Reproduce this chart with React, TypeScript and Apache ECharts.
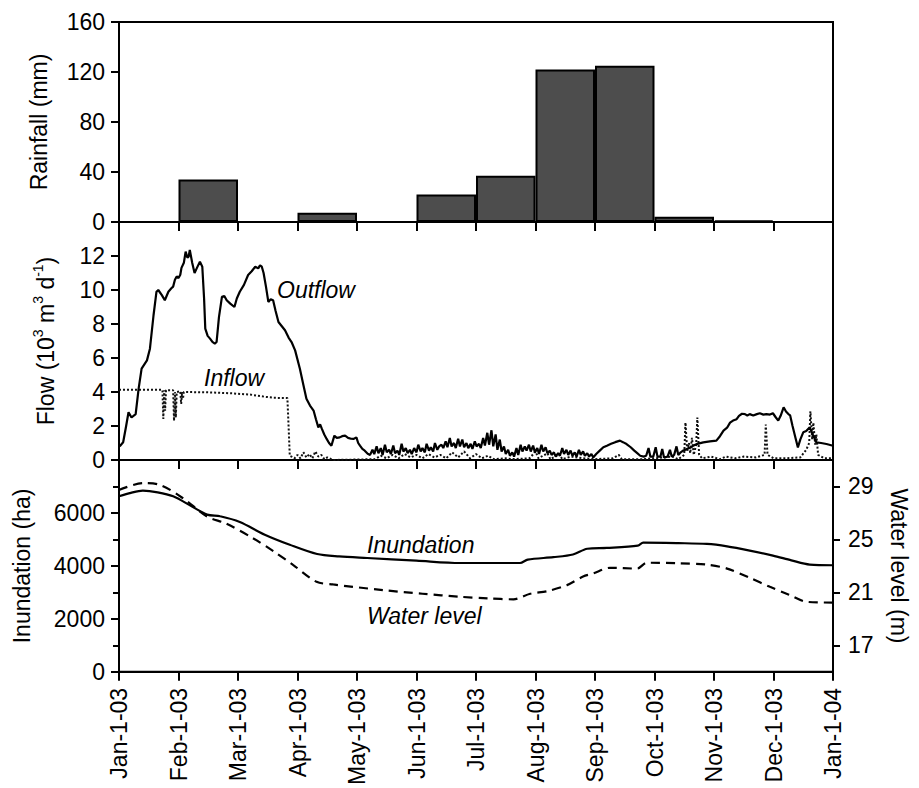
import React, { useEffect, useRef } from "react";
import * as echarts from "echarts";

// Tick labels along the shared time axis (one per month boundary)
const dateLabels = [
  "Jan-1-03", "Feb-1-03", "Mar-1-03", "Apr-1-03", "May-1-03", "Jun-1-03",
  "Jul-1-03", "Aug-1-03", "Sep-1-03", "Oct-1-03", "Nov-1-03", "Dec-1-03", "Jan-1-04",
];

// Monthly rainfall (mm)
const rainMonths = ["Jan", "Feb", "Mar", "Apr", "May", "Jun", "Jul", "Aug", "Sep", "Oct", "Nov", "Dec"];
const rainfall = [0, 34, 0, 7.5, 0, 22, 37, 122, 125, 4.3, 1.2, 0];

// Outflow (10^3 m3/d); x in months since Jan-1-03
const outflow: [number, number][] = [
  [0, 0.8], [0.02, 0.84], [0.07, 1.04], [0.12, 2.0], [0.16, 2.81], [0.21, 2.5], [0.28, 2.7], [0.33, 4.2],
  [0.38, 5.37], [0.47, 5.86], [0.52, 6.55], [0.58, 8.5], [0.63, 9.9], [0.66, 10.0], [0.72, 9.7], [0.77, 9.4],
  [0.83, 9.9], [0.88, 10.1], [0.91, 10.2], [0.94, 10.6], [0.97, 10.8], [1.0, 10.7], [1.03, 10.9], [1.05, 11.3],
  [1.09, 11.6], [1.12, 12.26], [1.15, 11.9], [1.17, 11.96], [1.19, 12.36], [1.23, 11.6], [1.27, 11.0],
  [1.31, 11.3], [1.36, 11.67], [1.4, 11.37], [1.43, 9.5], [1.45, 7.73], [1.49, 7.3], [1.53, 7.14],
  [1.57, 6.95], [1.61, 6.85], [1.64, 6.94], [1.68, 8.4], [1.73, 9.6], [1.77, 9.65], [1.81, 9.4], [1.87, 9.2],
  [1.94, 9.0], [1.98, 9.5], [2.03, 9.9], [2.1, 10.3], [2.17, 10.88], [2.23, 11.1], [2.29, 11.37], [2.34, 11.27],
  [2.37, 11.45], [2.4, 11.37], [2.43, 11.0], [2.47, 10.2], [2.51, 9.3], [2.55, 9.45], [2.59, 9.4], [2.63, 8.8],
  [2.68, 8.12], [2.73, 7.9], [2.79, 7.63], [2.85, 7.2], [2.9, 6.94], [2.96, 6.45], [3.04, 5.37], [3.1, 4.4],
  [3.15, 3.6], [3.21, 3.2], [3.27, 2.91], [3.31, 2.4], [3.35, 1.92], [3.38, 2.1], [3.41, 1.83], [3.45, 1.5],
  [3.49, 1.24], [3.53, 1.0], [3.57, 0.84], [3.6, 1.2], [3.62, 1.43], [3.66, 1.3], [3.71, 1.33], [3.75, 1.4],
  [3.8, 1.43], [3.85, 1.3], [3.9, 1.25], [3.94, 1.24], [3.99, 1.33], [4.02, 1.0], [4.05, 0.84], [4.09, 0.65],
  [4.13, 0.55], [4.18, 0.37],
  [4.22, 0.3], [4.26, 0.6], [4.29, 0.35], [4.33, 0.8], [4.36, 0.4], [4.4, 0.7], [4.43, 0.3], [4.47, 0.9],
  [4.5, 0.45], [4.54, 0.6], [4.57, 0.35], [4.61, 0.85], [4.64, 0.4], [4.68, 0.55], [4.71, 0.3], [4.75, 0.95],
  [4.78, 0.5], [4.82, 0.7], [4.85, 0.4], [4.89, 0.6], [4.92, 0.35], [4.96, 0.7], [5.0, 0.45], [5.03, 0.9],
  [5.07, 0.5], [5.1, 0.7], [5.14, 0.45], [5.17, 0.95], [5.21, 0.55], [5.24, 0.75], [5.28, 0.5], [5.31, 1.0],
  [5.35, 0.6], [5.38, 0.8], [5.42, 0.9], [5.45, 0.7], [5.49, 1.1], [5.52, 0.75], [5.56, 1.3], [5.59, 0.8],
  [5.63, 1.0], [5.66, 0.7], [5.7, 1.25], [5.73, 0.8], [5.77, 1.2], [5.8, 0.75], [5.84, 1.0], [5.87, 0.7],
  [5.91, 0.95], [5.94, 0.65], [5.98, 1.1], [6.01, 0.8], [6.05, 0.95], [6.08, 0.7], [6.12, 1.3], [6.15, 0.85],
  [6.19, 1.6], [6.22, 0.9], [6.26, 1.75], [6.29, 0.8], [6.33, 1.5], [6.36, 0.6], [6.4, 1.2], [6.43, 0.5],
  [6.47, 0.8], [6.5, 0.35], [6.54, 0.6], [6.57, 0.25], [6.61, 0.45], [6.64, 0.2], [6.68, 0.7], [6.71, 0.3],
  [6.75, 0.9], [6.78, 0.5], [6.82, 0.8], [6.85, 0.55], [6.89, 0.9], [6.92, 0.5], [6.96, 0.85], [6.99, 0.45],
  [7.03, 0.7], [7.06, 0.35], [7.1, 0.9], [7.13, 0.5], [7.17, 0.75], [7.2, 0.4], [7.24, 0.55], [7.27, 0.3],
  [7.31, 0.45], [7.34, 0.2], [7.38, 0.4], [7.41, 0.25], [7.45, 0.7], [7.48, 0.35], [7.52, 0.6], [7.55, 0.3],
  [7.59, 0.55], [7.62, 0.25], [7.66, 0.45], [7.69, 0.2], [7.73, 0.6], [7.76, 0.3], [7.8, 0.5], [7.83, 0.25],
  [7.87, 0.4], [7.9, 0.2], [7.94, 0.35], [7.97, 0.15], [8.02, 0.35], [8.08, 0.55], [8.14, 0.75], [8.2, 0.84],
  [8.27, 0.95], [8.34, 1.05], [8.42, 1.14], [8.47, 1.05], [8.53, 0.94], [8.6, 0.75], [8.66, 0.55], [8.71, 0.4],
  [8.76, 0.25], [8.82, 0.2], [8.86, 0.25], [8.9, 0.7], [8.93, 0.2], [8.98, 0.2], [9.02, 0.75], [9.05, 0.2],
  [9.1, 0.2], [9.13, 0.65], [9.16, 0.15], [9.22, 0.2], [9.26, 0.6], [9.29, 0.2], [9.33, 0.3], [9.37, 0.8],
  [9.4, 0.3], [9.44, 0.45], [9.48, 0.55], [9.52, 0.6], [9.57, 0.7], [9.62, 0.75], [9.65, 0.84], [9.72, 0.95],
  [9.82, 1.04], [9.93, 1.1], [10.04, 1.14], [10.1, 1.4], [10.16, 1.73], [10.22, 1.9], [10.27, 2.2],
  [10.32, 2.32], [10.38, 2.4], [10.42, 2.6], [10.47, 2.72], [10.52, 2.7], [10.56, 2.62], [10.6, 2.7],
  [10.66, 2.62], [10.72, 2.7], [10.77, 2.75], [10.83, 2.67], [10.88, 2.7], [10.94, 2.67], [10.99, 2.75],
  [11.04, 2.5], [11.08, 2.32], [11.12, 2.6], [11.17, 3.1], [11.21, 2.85], [11.25, 2.7], [11.28, 2.62],
  [11.32, 2.0], [11.37, 1.3], [11.41, 0.74], [11.45, 1.2], [11.5, 1.63], [11.55, 1.7], [11.61, 1.92],
  [11.66, 1.5], [11.72, 1.04], [11.8, 1.0], [11.89, 0.94], [12.0, 0.84],
];

// Inflow (10^3 m3/d)
const inflow: [number, number][] = [
  [0, 4.13], [0.5, 4.13], [0.73, 4.13], [0.745, 2.42], [0.76, 4.1], [0.775, 2.9], [0.79, 4.1], [0.91, 4.1],
  [0.925, 2.3], [0.94, 4.0], [0.955, 2.5], [0.97, 4.0], [1.03, 4.05], [1.045, 3.3], [1.06, 4.0], [1.075, 3.6],
  [1.09, 4.0], [1.5, 3.98], [1.9, 3.92], [2.2, 3.85], [2.45, 3.72], [2.6, 3.66], [2.83, 3.64], [2.85, 2.0],
  [2.87, 0.25], [2.9, 0.2], [2.95, 0.1], [3.0, 0.3], [3.05, 0.1], [3.1, 0.45], [3.15, 0.15], [3.2, 0.35],
  [3.25, 0.1], [3.3, 0.5], [3.35, 0.2], [3.4, 0.3], [3.45, 0.05], [3.5, 0.15], [3.6, 0.0], [4.3, 0.05],
  [4.4, 0.25], [4.5, 0.1], [4.6, 0.3], [4.7, 0.1], [4.8, 0.35], [4.9, 0.15], [5.0, 0.3], [5.1, 0.1],
  [5.2, 0.35], [5.3, 0.15], [5.4, 0.3], [5.5, 0.1], [5.6, 0.45], [5.7, 0.15], [5.8, 0.5], [5.9, 0.1],
  [6.0, 0.35], [6.1, 0.1], [6.2, 0.25], [6.3, 0.05], [6.5, 0.1], [6.6, 0.05], [6.9, 0.1], [7.0, 0.5],
  [7.05, 0.1], [7.2, 0.4], [7.25, 0.05], [7.4, 0.35], [7.45, 0.05], [7.6, 0.2], [7.8, 0.1], [8.0, 0.05],
  [8.3, 0.1], [8.4, 0.3], [8.45, 0.05], [8.8, 0.05], [9.0, 0.1], [9.3, 0.2], [9.4, 0.05], [9.5, 0.3],
  [9.52, 2.2], [9.55, 0.5], [9.58, 1.0], [9.6, 0.4], [9.63, 1.3], [9.66, 0.3], [9.7, 0.9], [9.72, 2.5],
  [9.75, 0.3], [9.8, 0.1], [9.95, 0.2], [10.1, 0.05], [10.2, 0.2], [10.35, 0.1], [10.5, 0.2], [10.7, 0.15],
  [10.85, 0.3], [10.87, 2.08], [10.9, 0.3], [11.0, 0.1], [11.2, 0.1], [11.45, 0.15], [11.55, 0.6],
  [11.6, 1.0], [11.62, 2.87], [11.65, 1.2], [11.67, 2.2], [11.7, 0.9], [11.72, 1.5], [11.75, 0.3],
  [11.85, 0.1], [12.0, 0.1],
];

// Inundated area (ha)
const inundation: [number, number][] = [
  [0, 6630], [0.2, 6760], [0.4, 6842], [0.65, 6780], [0.91, 6630], [1.2, 6280], [1.48, 5937], [1.7, 5875],
  [2.03, 5660], [2.45, 5180], [2.87, 4800], [3.33, 4450], [3.7, 4360], [4.17, 4300], [5.0, 4200],
  [5.73, 4110], [6.2, 4110], [6.74, 4110], [6.87, 4240], [7.3, 4330], [7.63, 4430], [7.87, 4650],
  [8.2, 4680], [8.72, 4770], [8.81, 4880], [9.4, 4860], [9.88, 4830], [10.22, 4740], [10.6, 4580],
  [10.99, 4390], [11.3, 4210], [11.61, 4050], [12.0, 4025],
];

// Water level (m)
const waterLevel: [number, number][] = [
  [0, 28.74], [0.4, 29.25], [0.69, 29.12], [1.08, 28.1], [1.48, 26.73], [1.8, 26.2], [2.25, 25.1],
  [2.6, 24.1], [2.93, 23.06], [3.32, 21.8], [3.6, 21.6], [4.44, 21.17], [5.1, 20.9], [5.73, 20.67],
  [6.2, 20.55], [6.63, 20.48], [6.91, 20.9], [7.2, 21.1], [7.53, 21.55], [7.8, 22.2], [7.97, 22.43],
  [8.25, 22.86], [8.71, 22.8], [8.87, 23.24], [9.4, 23.2], [9.88, 23.1], [10.22, 22.8], [10.6, 22.1],
  [10.94, 21.42], [11.25, 20.85], [11.56, 20.29], [12.0, 20.23],
];

const FONT = "'Liberation Sans', Arial, Helvetica, sans-serif";
const BLACK = "#000";

const baseText = { color: BLACK, fontFamily: FONT, fontSize: 23 };

const axisLineStyle = { show: true, lineStyle: { color: BLACK, width: 2 } };

function timeAxis(gridIndex: number, showLabels: boolean) {
  return {
    type: "value",
    gridIndex,
    min: 0,
    max: 12,
    interval: 1,
    axisLine: axisLineStyle,
    axisTick: { show: true, length: 9, lineStyle: { color: BLACK, width: 2 } },
    splitLine: { show: false },
    axisLabel: {
      show: showLabels,
      ...baseText,
      rotate: 90,
      margin: 16,
      formatter: (v: number) => dateLabels[Math.round(v)] ?? "",
    },
  };
}

export default function App() {
  const ref = useRef<HTMLDivElement>(null);

  useEffect(() => {
    document.body.style.margin = "0";
    if (!ref.current) return;
    const chart = echarts.init(ref.current, null, { renderer: "svg" });

    const option = {
      animation: false,
      backgroundColor: "#fff",
      grid: [
        { left: 119, right: 86, top: 22, height: 200, show: true, borderColor: BLACK, borderWidth: 2 },
        { left: 119, right: 86, top: 222, height: 238, show: true, borderColor: BLACK, borderWidth: 2 },
        { left: 119, right: 86, top: 460, height: 214, show: true, borderColor: BLACK, borderWidth: 2 },
      ],
      xAxis: [
        {
          type: "category",
          gridIndex: 0,
          data: rainMonths,
          boundaryGap: true,
          axisLine: axisLineStyle,
          axisTick: { show: true, length: 9, alignWithLabel: false, lineStyle: { color: BLACK, width: 2 } },
          axisLabel: { show: false },
          splitLine: { show: false },
        },
        timeAxis(1, false),
        timeAxis(2, true),
      ],
      yAxis: [
        {
          type: "value",
          gridIndex: 0,
          min: 0,
          max: 160,
          interval: 40,
          name: "Rainfall (mm)",
          nameLocation: "middle",
          nameRotate: 90,
          nameGap: 69,
          nameTextStyle: { ...baseText },
          axisLine: axisLineStyle,
          axisTick: { show: true, length: 8, lineStyle: { color: BLACK, width: 2 } },
          axisLabel: { ...baseText, margin: 14 },
          splitLine: { show: false },
        },
        {
          type: "value",
          gridIndex: 1,
          min: 0,
          max: 14,
          interval: 2,
          name: "Flow (10{sup|3} m{sup|3} d{sup|-1})",
          nameLocation: "middle",
          nameRotate: 90,
          nameGap: 58,
          nameTextStyle: {
            ...baseText,
            lineHeight: 30,
            rich: {
              sup: { fontSize: 14, lineHeight: 14, verticalAlign: "top", color: BLACK, fontFamily: FONT },
            },
          },
          axisLine: axisLineStyle,
          axisTick: { show: true, length: 8, lineStyle: { color: BLACK, width: 2 } },
          axisLabel: {
            ...baseText,
            margin: 14,
            formatter: (v: number) => (v === 14 ? "" : String(v)),
          },
          splitLine: { show: false },
        },
        {
          type: "value",
          gridIndex: 2,
          min: 0,
          max: 8000,
          interval: 2000,
          name: "Inundation (ha)",
          nameLocation: "middle",
          nameRotate: 90,
          nameGap: 86,
          nameTextStyle: { ...baseText },
          axisLine: axisLineStyle,
          axisTick: { show: true, length: 8, lineStyle: { color: BLACK, width: 2 } },
          minorTick: { show: true, splitNumber: 2, length: 6, lineStyle: { color: BLACK, width: 2 } },
          axisLabel: {
            ...baseText,
            margin: 14,
            formatter: (v: number) => (v === 8000 ? "" : String(v)),
          },
          splitLine: { show: false },
          minorSplitLine: { show: false },
        },
        {
          type: "value",
          gridIndex: 2,
          position: "right",
          min: 15,
          max: 31,
          name: "Water level (m)",
          nameLocation: "middle",
          nameRotate: -90,
          nameGap: 54,
          nameTextStyle: { ...baseText },
          axisLine: axisLineStyle,
          axisTick: {
            show: true,
            length: 7,
            customValues: [17, 21, 25, 29],
            lineStyle: { color: BLACK, width: 2 },
          },
          axisLabel: { ...baseText, margin: 15, customValues: [17, 21, 25, 29] },
          splitLine: { show: false },
        },
      ],
      series: [
        {
          name: "Rainfall",
          type: "bar",
          xAxisIndex: 0,
          yAxisIndex: 0,
          data: rainfall,
          barCategoryGap: "0%",
          itemStyle: { color: "#4d4d4d", borderColor: BLACK, borderWidth: 2 },
        },
        {
          name: "Inflow",
          type: "line",
          xAxisIndex: 1,
          yAxisIndex: 1,
          data: inflow,
          showSymbol: false,
          lineStyle: { color: "#111", width: 2, type: "dotted" },
        },
        {
          name: "Outflow",
          type: "line",
          xAxisIndex: 1,
          yAxisIndex: 1,
          data: outflow,
          showSymbol: false,
          lineStyle: { color: BLACK, width: 2.2 },
        },
        {
          name: "Inundation",
          type: "line",
          xAxisIndex: 2,
          yAxisIndex: 2,
          data: inundation,
          showSymbol: false,
          smooth: 0.3,
          lineStyle: { color: BLACK, width: 2.2 },
        },
        {
          name: "Water level",
          type: "line",
          xAxisIndex: 2,
          yAxisIndex: 3,
          data: waterLevel,
          showSymbol: false,
          smooth: 0.3,
          lineStyle: { color: BLACK, width: 2.2, type: [9, 6] },
        },
      ],
      graphic: [
        { type: "text", left: 277, top: 278, style: { text: "Outflow", ...baseText, fill: BLACK, fontStyle: "italic" } },
        { type: "text", left: 204, top: 366, style: { text: "Inflow", ...baseText, fill: BLACK, fontStyle: "italic" } },
        { type: "text", left: 367, top: 533, style: { text: "Inundation", ...baseText, fill: BLACK, fontStyle: "italic" } },
        { type: "text", left: 367, top: 604, style: { text: "Water level", ...baseText, fill: BLACK, fontStyle: "italic" } },
      ],
    };

    chart.setOption(option as any);
    return () => chart.dispose();
  }, []);

  return <div ref={ref} style={{ width: 919, height: 788 }} />;
}
